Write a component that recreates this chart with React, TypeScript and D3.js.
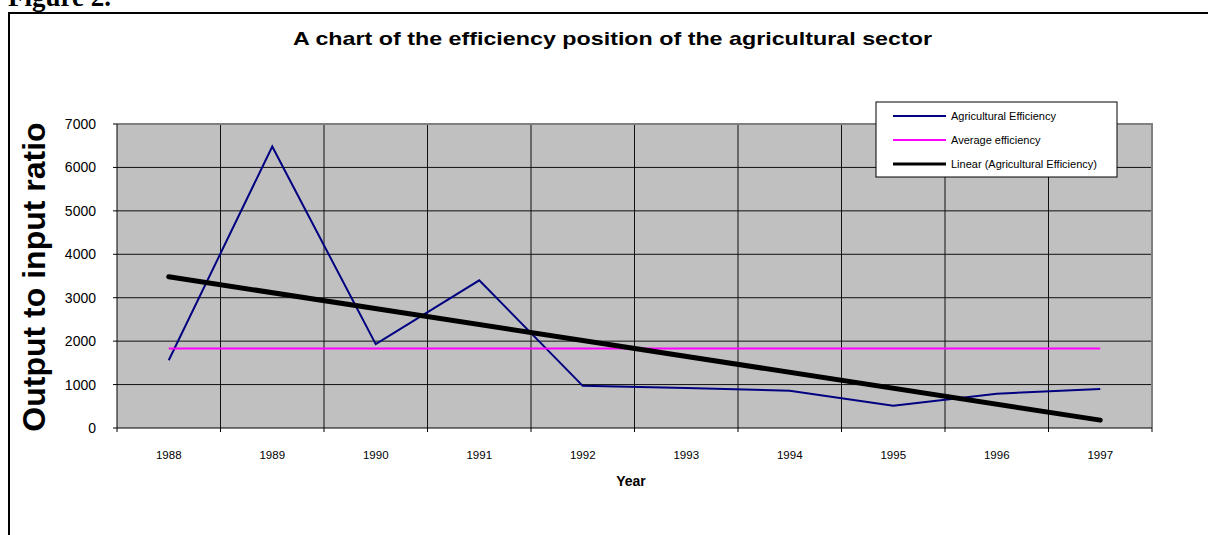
import React from "react";
import * as d3 from "d3";

// values
const years = ["1988", "1989", "1990", "1991", "1992", "1993", "1994", "1995", "1996", "1997"];
const efficiency = [1560, 6480, 1930, 3400, 970, 920, 860, 510, 790, 900];
const yTicks = [0, 1000, 2000, 3000, 4000, 5000, 6000, 7000];
const legendLabels = ["Agricultural Efficiency", "Average efficiency", "Linear (Agricultural Efficiency)"];
const legendColors = ["#000080", "#FF00FF", "#000000"];

const W = 1208;
const H = 535;
const plot = { left: 117, right: 1152, top: 124, bottom: 428 };
const sans = "'Liberation Sans', Arial, sans-serif";

const App = () => {
  const x = d3.scaleBand().domain(years).range([plot.left, plot.right]).padding(0);
  const y = d3.scaleLinear().domain([0, 7000]).range([plot.bottom, plot.top]);
  const cx = (yr) => x(yr) + x.bandwidth() / 2;

  // average of the series and least-squares trend, as Excel draws them
  const avg = d3.mean(efficiency);
  const idx = efficiency.map((_, i) => i + 1);
  const mx = d3.mean(idx);
  const slope =
    d3.sum(idx, (v, i) => (v - mx) * (efficiency[i] - avg)) / d3.sum(idx, (v) => (v - mx) * (v - mx));
  const trend = idx.map((v) => avg + slope * (v - mx));

  const line = d3
    .line()
    .x((d) => cx(d[0]))
    .y((d) => y(d[1]));

  const seriesPath = line(years.map((yr, i) => [yr, efficiency[i]]));
  const avgPath = line([[years[0], avg], [years[years.length - 1], avg]]);
  const trendPath = line([[years[0], trend[0]], [years[years.length - 1], trend[trend.length - 1]]]);

  const legend = { x: 876, y: 102, w: 241, h: 75, row: 24 };
  const legendWidths = [2, 2, 3];

  return (
    <svg width={W} height={H} style={{ position: "absolute", left: 0, top: 0 }}>
      <rect width={W} height={H} fill="#fff" />
      <text x={8} y={6} fontFamily="'Liberation Serif', serif" fontWeight="bold" fontSize={27}>
        Figure 2.
      </text>
      {/* outer frame */}
      <path d={`M9,${H} V13 H${W}`} fill="none" stroke="#000" strokeWidth={2} />

      <text x={293} y={45} fontFamily={sans} fontWeight="bold" fontSize={19} textLength={639} lengthAdjust="spacingAndGlyphs">
        A chart of the efficiency position of the agricultural sector
      </text>

      {/* plot area */}
      <rect x={plot.left} y={plot.top} width={plot.right - plot.left} height={plot.bottom - plot.top} fill="#C0C0C0" />
      {yTicks.slice(1, -1).map((t) => (
        <line key={t} x1={plot.left} x2={plot.right} y1={y(t)} y2={y(t)} stroke="#111" strokeWidth={1} />
      ))}
      {years.slice(1).map((yr) => (
        <line key={yr} x1={x(yr)} x2={x(yr)} y1={plot.top} y2={plot.bottom} stroke="#111" strokeWidth={1} />
      ))}
      <path
        d={`M${plot.left},${plot.top} H${plot.right} V${plot.bottom}`}
        fill="none"
        stroke="#808080"
        strokeWidth={2}
      />
      <line x1={plot.left} x2={plot.left} y1={plot.top} y2={plot.bottom} stroke="#000" strokeWidth={1} />
      <line x1={plot.left} x2={plot.right} y1={plot.bottom} y2={plot.bottom} stroke="#000" strokeWidth={1} />

      {/* y axis */}
      {yTicks.map((t) => (
        <g key={t}>
          <line x1={plot.left - 4} x2={plot.left} y1={y(t)} y2={y(t)} stroke="#000" />
          <text x={96} y={y(t) + 5} textAnchor="end" fontFamily={sans} fontSize={14}>
            {t}
          </text>
        </g>
      ))}
      {/* x axis */}
      {years.map((yr) => (
        <line key={yr} x1={x(yr)} x2={x(yr)} y1={plot.bottom} y2={plot.bottom + 4} stroke="#000" />
      ))}
      <line x1={plot.right} x2={plot.right} y1={plot.bottom} y2={plot.bottom + 4} stroke="#000" />
      {years.map((yr) => (
        <text key={yr} x={cx(yr)} y={459} textAnchor="middle" fontFamily={sans} fontSize={11.5}>
          {yr}
        </text>
      ))}
      <text x={631} y={486} textAnchor="middle" fontFamily={sans} fontWeight="bold" fontSize={14}>
        Year
      </text>
      <text
        transform="translate(45,277) rotate(-90)"
        textAnchor="middle"
        fontFamily={sans}
        fontWeight="bold"
        fontSize={32}
      >
        Output to input ratio
      </text>

      {/* series */}
      <path d={seriesPath} fill="none" stroke={legendColors[0]} strokeWidth={2} />
      <path d={avgPath} fill="none" stroke={legendColors[1]} strokeWidth={2} />
      <path d={trendPath} fill="none" stroke={legendColors[2]} strokeWidth={5} strokeLinecap="round" />

      {/* legend */}
      <rect x={legend.x} y={legend.y} width={legend.w} height={legend.h} fill="#fff" stroke="#000" strokeWidth={1} />
      {legendLabels.map((lab, i) => {
        const ly = legend.y + 14 + i * legend.row;
        return (
          <g key={lab}>
            <line x1={893} x2={946} y1={ly} y2={ly} stroke={legendColors[i]} strokeWidth={legendWidths[i]} />
            <text x={951} y={ly + 4} fontFamily={sans} fontSize={11}>
              {lab}
            </text>
          </g>
        );
      })}
    </svg>
  );
};

export default App;
